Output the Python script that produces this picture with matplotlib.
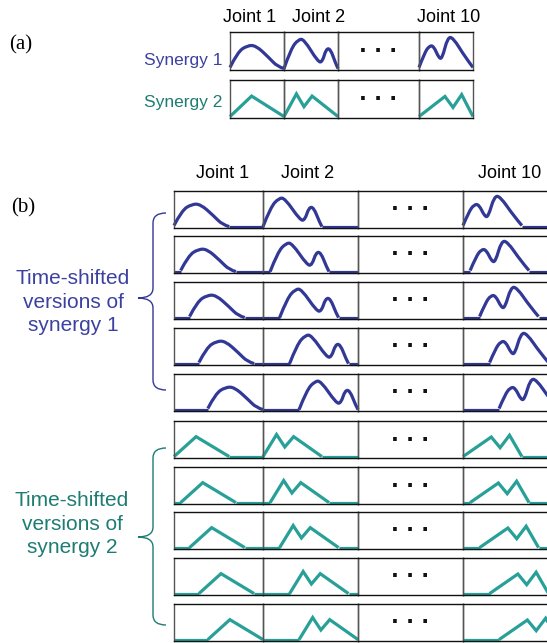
import matplotlib
matplotlib.use("Agg")
import matplotlib.pyplot as plt
from matplotlib.path import Path
from matplotlib.patches import PathPatch
import matplotlib.transforms as mtransforms

W, H = 547, 643

# ---------------- data ----------------
joint_labels = ["Joint 1", "Joint 2", "Joint 10"]
synergy_labels = ["Synergy 1", "Synergy 2"]
group_labels = ["Time-shifted\nversions of\nsynergy 1", "Time-shifted\nversions of\nsynergy 2"]
panel_labels = ["(a)", "(b)"]

# synergy 1 waveforms (smooth; control points, normalised time t / amplitude v)
syn1_j1_t = [0.0, 0.14, 0.32, 0.48, 0.72, 0.88, 1.0]
syn1_j1_v = [0.03, 0.45, 0.63, 0.63, 0.30, 0.05, 0.0]
syn1_j2_t = [0.0, 0.13, 0.27, 0.37, 0.63, 0.71, 0.78, 0.86, 0.96, 1.0]
syn1_j2_v = [0.0, 0.55, 0.80, 0.80, 0.18, 0.18, 0.54, 0.54, 0.12, 0.0]
syn1_j10_t = [0.0, 0.10, 0.19, 0.27, 0.37, 0.43, 0.53, 0.63, 0.86, 1.0]
syn1_j10_v = [0.03, 0.42, 0.62, 0.62, 0.28, 0.28, 0.85, 0.85, 0.30, 0.03]

# synergy 2 waveforms (piecewise linear)
syn2_j1_t = [0.0, 0.40, 1.0]
syn2_j1_v = [0.0, 0.56, 0.0]
syn2_j2_t = [0.0, 0.23, 0.37, 0.52, 1.0]
syn2_j2_v = [0.0, 0.62, 0.27, 0.56, 0.0]
syn2_j10_t = [0.0, 0.48, 0.63, 0.79, 1.0]
syn2_j10_v = [0.0, 0.55, 0.25, 0.60, 0.0]

# time shifts (fraction of box width) and burst duration in panel (b)
time_shifts = [0.0, 0.075, 0.175, 0.28, 0.38]
burst_width = 0.62

# ---------------- style / layout ----------------
BLUE = "#323895"
BLUE_TXT = "#3c41a0"
TEAL = "#28a098"
TEAL_TXT = "#1d7c73"
LW = 2.3

a_col_edges = [230, 284, 338, 419, 473]
a_row_tops = [32, 80]
a_row_h = 38
b_col_edges = [174, 263, 358, 463, 558]
b_row_tops = [191, 236, 282, 328, 374, 421, 467, 512, 558, 604]
b_row_h = 37

syn1 = [(syn1_j1_t, syn1_j1_v), (syn1_j2_t, syn1_j2_v), (syn1_j10_t, syn1_j10_v)]
syn2 = [(syn2_j1_t, syn2_j1_v), (syn2_j2_t, syn2_j2_v), (syn2_j10_t, syn2_j10_v)]


def smooth_path(t, v):
    pts = list(zip(t, v))
    verts = [pts[0]]
    codes = [Path.MOVETO]
    for i in range(1, len(pts) - 2):
        mid = ((pts[i][0] + pts[i + 1][0]) / 2, (pts[i][1] + pts[i + 1][1]) / 2)
        verts += [pts[i], mid]
        codes += [Path.CURVE3, Path.CURVE3]
    verts += [pts[-2], pts[-1]]
    codes += [Path.CURVE3, Path.CURVE3]
    return Path(verts, codes)


def line_path(t, v):
    verts = list(zip(t, v))
    codes = [Path.MOVETO] + [Path.LINETO] * (len(verts) - 1)
    return Path(verts, codes)


fig = plt.figure(figsize=(W / 100, H / 100), dpi=100)

# overlay axes in pixel coordinates for labels and braces
ov = fig.add_axes([0, 0, 1, 1])
ov.set_xlim(0, W)
ov.set_ylim(H, 0)
ov.axis("off")


def cell(x0, x1, y0, h):
    ax = fig.add_axes([x0 / W, 1 - (y0 + h) / H, (x1 - x0) / W, h / H])
    ax.set_xlim(0, 1)
    ax.set_ylim(-0.04, 1.0)
    ax.set_xticks([])
    ax.set_yticks([])
    ax.patch.set_alpha(0)
    for s in ("top", "bottom"):
        ax.spines[s].set_color("#111111")
        ax.spines[s].set_linewidth(1.0)
    for s in ("left", "right"):
        ax.spines[s].set_color("#555555")
        ax.spines[s].set_linewidth(1.0)
    return ax


def draw_wave(ax, t, v, smooth, color, shift, scale):
    path = smooth_path(t, v) if smooth else line_path(t, v)
    tr = mtransforms.Affine2D().scale(scale, 1).translate(shift, 0) + ax.transData
    pp = PathPatch(path, transform=tr, fill=False, ec=color, lw=LW,
                   joinstyle="round" if smooth else "miter", capstyle="butt",
                   clip_on=False)
    ax.add_patch(pp)
    if shift > 0:
        ax.plot([0, shift], [0, 0], color=color, lw=LW, solid_capstyle="butt", clip_on=False)
    if shift + scale < 1:
        ax.plot([shift + scale, 1], [0, 0], color=color, lw=LW, solid_capstyle="butt", clip_on=False)


def dots(ax):
    ax.text(0.5, 0.5, "· · ·", ha="center", va="center", fontsize=15,
            fontweight="bold", color="#111111", transform=ax.transAxes,
            family="DejaVu Sans")


data_cols = [0, 1, 3]

# ---------------- panel (a) ----------------
for r, (waves, color) in enumerate([(syn1, BLUE), (syn2, TEAL)]):
    y0 = a_row_tops[r]
    for c in range(4):
        ax = cell(a_col_edges[c], a_col_edges[c + 1], y0, a_row_h)
        if c == 2:
            dots(ax)
        else:
            j = data_cols.index(c)
            t, v = waves[j]
            draw_wave(ax, t, v, r == 0, color, 0.0, 1.0)

# ---------------- panel (b) ----------------
for g, (waves, color) in enumerate([(syn1, BLUE), (syn2, TEAL)]):
    for k, sh in enumerate(time_shifts):
        y0 = b_row_tops[g * 5 + k]
        for c in range(4):
            ax = cell(b_col_edges[c], b_col_edges[c + 1], y0, b_row_h)
            if c == 2:
                dots(ax)
            else:
                j = data_cols.index(c)
                t, v = waves[j]
                draw_wave(ax, t, v, g == 0, color, sh, burst_width)

# ---------------- labels ----------------
FONT = "Liberation Sans"
ov.text(21, 45, panel_labels[0], family="Liberation Serif", fontsize=15, ha="center", va="center")
ov.text(23, 208, panel_labels[1], family="Liberation Serif", fontsize=15, ha="center", va="center")

for lab, x in zip(joint_labels, [250, 319, 449]):
    ov.text(x, 17, lab, family=FONT, fontsize=13, ha="center", va="center")
for lab, x in zip(joint_labels, [223, 308, 510]):
    ov.text(x, 173, lab, family=FONT, fontsize=13, ha="center", va="center")

ov.text(222, 60, synergy_labels[0], family=FONT, fontsize=12.5, ha="right", va="center", color=BLUE_TXT)
ov.text(222, 102, synergy_labels[1], family=FONT, fontsize=12.5, ha="right", va="center", color=TEAL_TXT)

ov.text(73, 302, group_labels[0], family=FONT, fontsize=15, ha="center", va="center",
        color=BLUE_TXT, linespacing=1.32)
ov.text(72, 524, group_labels[1], family=FONT, fontsize=15, ha="center", va="center",
        color=TEAL_TXT, linespacing=1.32)


def brace(top, bottom, tip_y, x_end, x_mid, x_tip, color):
    r = 10
    verts = [
        (x_end, top),
        (x_mid, top), (x_mid, top + r),
        (x_mid, tip_y - r),
        (x_mid, tip_y), (x_tip, tip_y),
        (x_mid, tip_y), (x_mid, tip_y + r),
        (x_mid, bottom - r),
        (x_mid, bottom), (x_end, bottom),
    ]
    codes = [Path.MOVETO, Path.CURVE3, Path.CURVE3, Path.LINETO,
             Path.CURVE3, Path.CURVE3, Path.CURVE3, Path.CURVE3,
             Path.LINETO, Path.CURVE3, Path.CURVE3]
    ov.add_patch(PathPatch(Path(verts, codes), fill=False, ec=color, lw=1.0))


brace(213, 390, 298, 166, 153, 138, BLUE)
brace(448, 625, 537, 166, 153, 138, TEAL_TXT)

fig.savefig("out.png", dpi=100)
